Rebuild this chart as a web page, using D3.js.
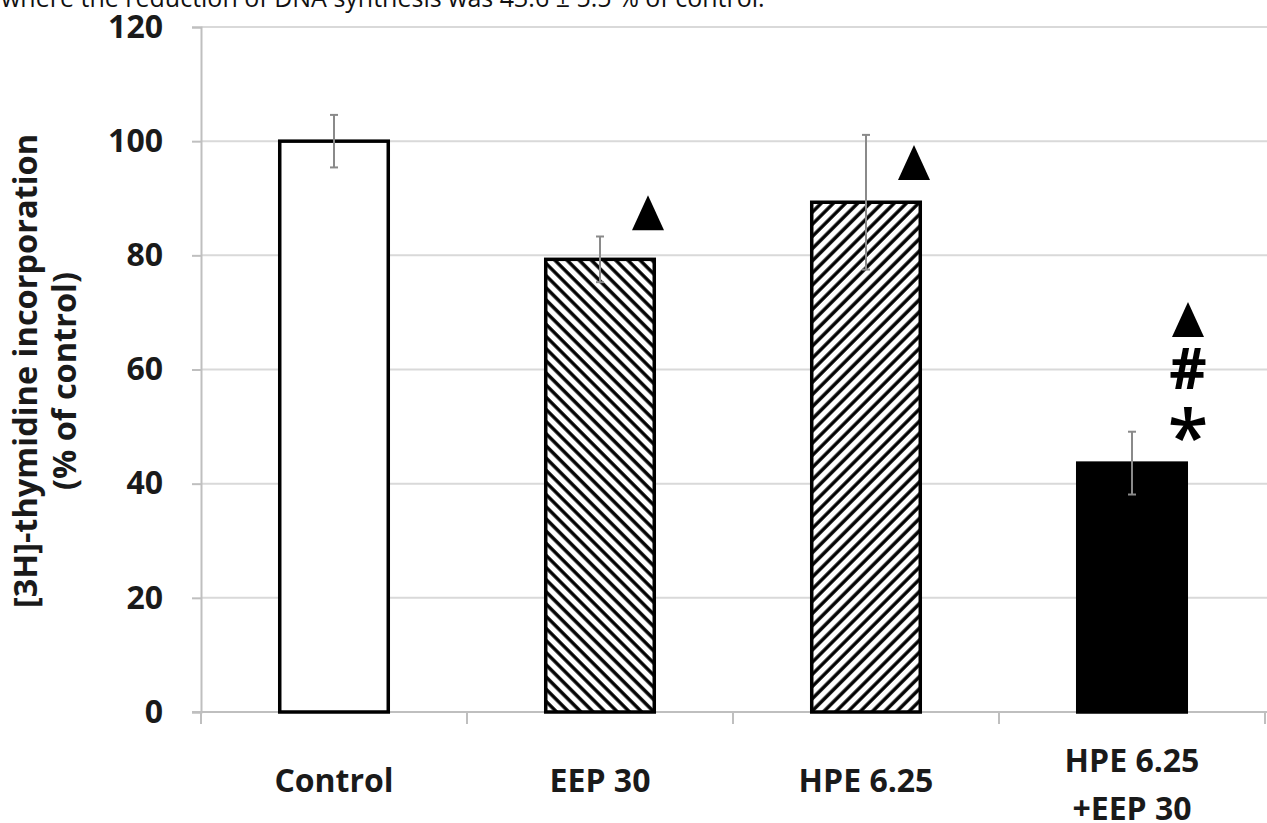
<!DOCTYPE html>
<html>
<head>
<meta charset="utf-8">
<script src="https://cdn.jsdelivr.net/npm/d3@7"></script>
<style>
  html, body { margin: 0; padding: 0; background: #fff; }
  svg { display: block; }
  text { font-family: "Open Sans", "DejaVu Sans", sans-serif; }
</style>
</head>
<body>
<svg id="chart" width="1267" height="823"></svg>
<script>
// Treatment groups and [3H]-thymidine incorporation (% of control)
const categories = ["Control", "EEP 30", "HPE 6.25", "HPE 6.25\n+EEP 30"];
const means = [100, 79.3, 89.3, 43.6];
const errors = [4.6, 4.0, 11.8, 5.5];
const fills = ["white", "hatchBack", "hatchFwd", "black"];
const yTicks = [0, 20, 40, 60, 80, 100, 120];

// Significance marks per group, each with the value it sits at
const markSymbols = [[], ["▲"], ["▲"], ["▲", "#", "*"]];
const markValues = [[], [84.4], [93.2], [65.7, 60.1, 50.6]];

const caption = "where the reduction of DNA synthesis was 43.6 ± 5.5 % of control.";

const svg = d3.select("#chart");
const plotLeft = 201, plotRight = 1265, plotTop = 27, plotBottom = 712;
const labelSize = 32;

const x = d3.scaleBand()
  .domain(categories)
  .range([plotLeft, plotRight])
  .paddingInner(0.592)
  .paddingOuter(0.296);

const y = d3.scaleLinear().domain([0, 120]).range([plotBottom, plotTop]);

// Hatch patterns
const defs = svg.append("defs");
function hatch(id, angle) {
  const p = defs.append("pattern")
    .attr("id", id)
    .attr("patternUnits", "userSpaceOnUse")
    .attr("width", 8.6).attr("height", 8.6)
    .attr("patternTransform", `rotate(${angle})`);
  p.append("rect").attr("width", 8.6).attr("height", 8.6).attr("fill", "white");
  p.append("line").attr("x1", 2).attr("x2", 2).attr("y1", 0).attr("y2", 8.6)
    .attr("stroke", "black").attr("stroke-width", 3.4);
}
hatch("hatchBack", -45);
hatch("hatchFwd", 45);

// Caption line at the top
svg.append("text")
  .attr("x", 1).attr("y", 7)
  .attr("font-size", 25)
  .attr("fill", "#111")
  .text(caption);

// Gridlines
svg.append("g").selectAll("line")
  .data(yTicks.filter(d => d > 0))
  .join("line")
  .attr("x1", plotLeft).attr("x2", 1267)
  .attr("y1", d => y(d)).attr("y2", d => y(d))
  .attr("stroke", "#d9d9d9").attr("stroke-width", 2);

// Y axis
const yAxis = svg.append("g")
  .attr("transform", `translate(${plotLeft},0)`)
  .call(d3.axisLeft(y).tickValues(yTicks).tickSize(9).tickPadding(29));
yAxis.select(".domain").attr("stroke", "#bfbfbf").attr("stroke-width", 2);
yAxis.selectAll(".tick line").attr("stroke", "#bfbfbf").attr("stroke-width", 2);
yAxis.selectAll(".tick text")
  .attr("font-size", labelSize).attr("font-weight", 700)
  .attr("font-family", "'Open Sans', sans-serif")
  .attr("fill", "#1a1a1a");

// X axis baseline and category separators
const xAxis = svg.append("g");
xAxis.append("line")
  .attr("x1", plotLeft - 9).attr("x2", 1267)
  .attr("y1", y(0)).attr("y2", y(0))
  .attr("stroke", "#bfbfbf").attr("stroke-width", 2);
const bounds = categories.map(c => x(c) - x.step() * x.paddingInner() / 2)
  .concat([plotRight]);
xAxis.selectAll("line.sep")
  .data(bounds)
  .join("line")
  .attr("class", "sep")
  .attr("x1", d => d).attr("x2", d => d)
  .attr("y1", y(0)).attr("y2", y(0) + 12)
  .attr("stroke", "#bfbfbf").attr("stroke-width", 2);

// Category labels (multi-line labels are centred on the same line as single ones)
const lineGap = 48;
const labels = svg.append("g").selectAll("text")
  .data(categories)
  .join("text")
  .attr("x", d => x(d) + x.bandwidth() / 2)
  .attr("y", d => 792 - (d.split("\n").length - 1) * 20)
  .attr("text-anchor", "middle")
  .attr("font-size", labelSize).attr("font-weight", 700)
  .attr("fill", "#1a1a1a");
labels.selectAll("tspan")
  .data(d => d.split("\n"))
  .join("tspan")
  .attr("x", function () { return d3.select(this.parentNode).attr("x"); })
  .attr("dy", (d, i) => i === 0 ? 0 : lineGap)
  .text(d => d);

// Y axis title
const yTitle = svg.append("g")
  .attr("font-size", 32.5).attr("font-weight", 700).attr("fill", "#1a1a1a")
  .attr("text-anchor", "middle");
yTitle.append("text")
  .attr("transform", "translate(37,371) rotate(-90)")
  .text("[3H]-thymidine incorporation");
yTitle.append("text")
  .attr("transform", "translate(76,381) rotate(-90)")
  .text("(% of control)");

// Bars
svg.append("g").selectAll("rect")
  .data(categories)
  .join("rect")
  .attr("x", d => x(d))
  .attr("width", x.bandwidth())
  .attr("y", (d, i) => y(means[i]))
  .attr("height", (d, i) => y(0) - y(means[i]))
  .attr("fill", (d, i) => fills[i].startsWith("hatch") ? `url(#${fills[i]})` : fills[i])
  .attr("stroke", "black").attr("stroke-width", 3.5);

// Error bars
const eb = svg.append("g").attr("stroke", "#8a8a8a").attr("stroke-width", 2);
categories.forEach((c, i) => {
  const cx = x(c) + x.bandwidth() / 2;
  const hi = y(means[i] + errors[i]), lo = y(means[i] - errors[i]);
  eb.append("line").attr("x1", cx).attr("x2", cx).attr("y1", hi).attr("y2", lo);
  eb.append("line").attr("x1", cx - 4).attr("x2", cx + 4).attr("y1", hi).attr("y2", hi);
  eb.append("line").attr("x1", cx - 4).attr("x2", cx + 4).attr("y1", lo).attr("y2", lo);
});

// Significance marks
const marks = svg.append("g");
categories.forEach((c, i) => {
  const stacked = markSymbols[i].length > 1;
  const cx = x(c) + x.bandwidth() / 2 + (stacked ? 56 : 48);
  markSymbols[i].forEach((s, j) => {
    const v = y(markValues[i][j]);
    if (s === "▲") {
      marks.append("path")
        .attr("d", `M${cx},${v - 35} L${cx + 16},${v} L${cx - 16},${v} Z`)
        .attr("fill", "black");
    } else if (s === "#") {
      marks.append("text")
        .attr("x", cx).attr("y", v + 20)
        .attr("text-anchor", "middle")
        .attr("font-size", 58).attr("font-weight", 700)
        .text(s);
    } else {
      marks.append("text")
        .attr("x", cx).attr("y", v + 40)
        .attr("text-anchor", "middle")
        .attr("font-size", 74).attr("font-weight", 600)
        .text(s);
    }
  });
});
</script>
</body>
</html>
